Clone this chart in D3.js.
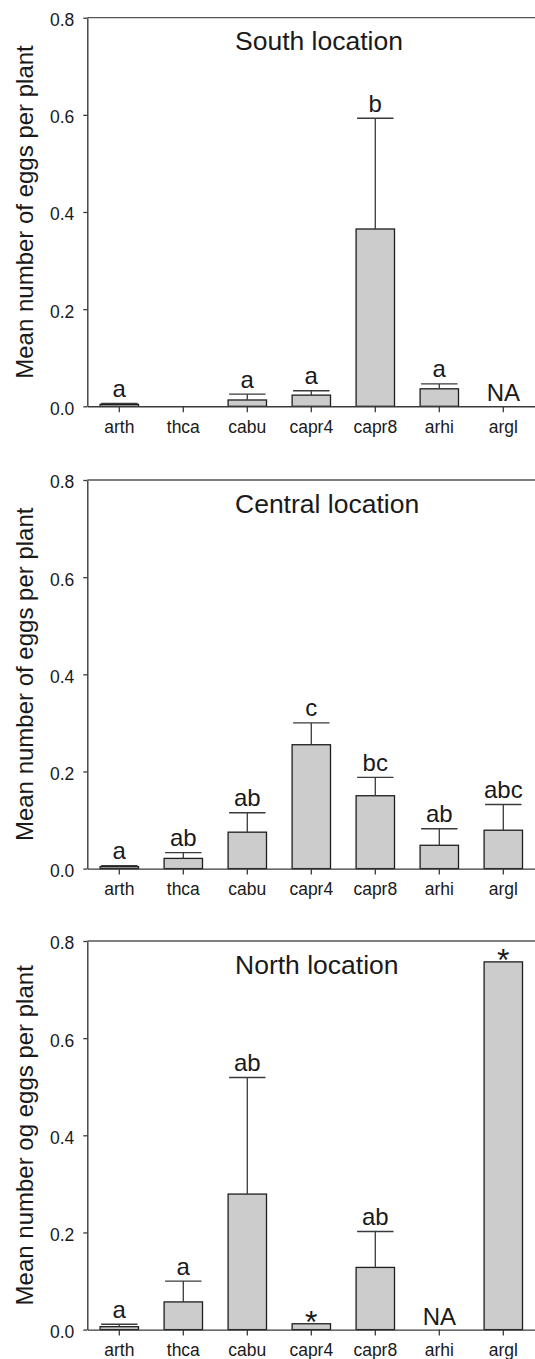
<!DOCTYPE html>
<html>
<head>
<meta charset="utf-8">
<script src="https://cdn.jsdelivr.net/npm/d3@7/dist/d3.min.js"></script>
<style>
  html, body { margin: 0; padding: 0; background: #fff; }
  svg { display: block; font-family: "Liberation Sans", Arial, sans-serif; }
</style>
</head>
<body>
<div id="chart"></div>
<script>
// Three stacked bar panels (South / Central / North), mean eggs per plant
// with one-sided error bars and significance letters above.

const categories = ['arth', 'thca', 'cabu', 'capr4', 'capr8', 'arhi', 'argl'];
const yTicks = [0, 0.2, 0.4, 0.6, 0.8];

const titles = ['South location', 'Central location', 'North location'];
const yLabels = [
  'Mean number of eggs per plant',
  'Mean number of eggs per plant',
  'Mean number og eggs per plant',
];

// null = not available (NA)
const southMean = [0.004, 0, 0.013, 0.023, 0.365, 0.036, null];
const southErr = [0.002, 0, 0.012, 0.009, 0.228, 0.010, null];
const southLetters = ['a', '', 'a', 'a', 'b', 'a', 'NA'];

const centralMean = [0.004, 0.021, 0.075, 0.255, 0.150, 0.048, 0.079];
const centralErr = [0.002, 0.012, 0.040, 0.045, 0.038, 0.034, 0.053];
const centralLetters = ['a', 'ab', 'ab', 'c', 'bc', 'ab', 'abc'];

const northMean = [0.006, 0.057, 0.279, 0.012, 0.128, null, 0.757];
const northErr = [0.005, 0.043, 0.240, 0, 0.074, null, 0];
const northLetters = ['a', 'a', 'ab', '*', 'ab', 'NA', '*'];

const W = 535, Htotal = 1359;
const left = 87.3, right = 535.3, plotH = 388.6;
const tops = [17.7, 480, 941];

const INK = '#1a1a1a';
const LINE = '#3a3a3a';

const svg = d3.select('#chart').append('svg')
  .attr('width', W).attr('height', Htotal)
  .attr('viewBox', `0 0 ${W} ${Htotal}`);

const panels = [
  { title: titles[0], ylab: yLabels[0], mean: southMean, err: southErr, letters: southLetters },
  { title: titles[1], ylab: yLabels[1], mean: centralMean, err: centralErr, letters: centralLetters },
  { title: titles[2], ylab: yLabels[2], mean: northMean, err: northErr, letters: northLetters },
];

panels.forEach((p, k) => {
  const g = svg.append('g').attr('transform', `translate(0,${tops[k]})`);
  const x = d3.scaleBand().domain(categories).range([left, right])
    .paddingInner(0.4).paddingOuter(0.2);
  const y = d3.scaleLinear().domain([0, 0.8]).range([plotH, 0]);
  const bw = x.bandwidth();
  const capHalf = bw / 2 - 1;

  const rows = categories.map((c, i) => ({ c, m: p.mean[i], e: p.err[i], l: p.letters[i] }));
  const withBar = rows.filter((d) => d.m !== null && d.m > 0);

  // bars
  g.append('g').selectAll('rect').data(withBar).join('rect')
    .attr('x', (d) => x(d.c)).attr('y', (d) => y(d.m))
    .attr('width', bw).attr('height', (d) => plotH - y(d.m))
    .style('fill', '#cccccc').style('stroke', '#1e1e1e').attr('stroke-width', 1.3);

  // error bars (upper only)
  const eb = g.append('g').selectAll('g').data(withBar.filter((d) => d.e > 0)).join('g')
    .style('stroke', LINE).attr('stroke-width', 1.3);
  eb.append('line')
    .attr('x1', (d) => x(d.c) + bw / 2).attr('x2', (d) => x(d.c) + bw / 2)
    .attr('y1', (d) => y(d.m)).attr('y2', (d) => y(d.m + d.e));
  eb.append('line')
    .attr('x1', (d) => x(d.c) + bw / 2 - capHalf).attr('x2', (d) => x(d.c) + bw / 2 + capHalf)
    .attr('y1', (d) => y(d.m + d.e)).attr('y2', (d) => y(d.m + d.e));

  // letters
  g.append('g').selectAll('text').data(rows.filter((d) => d.l)).join('text')
    .attr('x', (d) => x(d.c) + bw / 2)
    .attr('y', (d) => {
      if (d.l === 'NA') return plotH - 5;
      if (d.l === '*') return y(d.m) + 9;
      return y(d.m + d.e) - 6.5;
    })
    .attr('text-anchor', 'middle')
    .style('fill', INK)
    .style('font-size', (d) => (d.l === '*' ? '32px' : '24px'))
    .text((d) => d.l);

  // axes
  const ax = g.append('g').attr('transform', `translate(${left},0)`)
    .call(d3.axisLeft(y).tickValues(yTicks).tickFormat(d3.format('.1f'))
      .tickSize(4).tickSizeOuter(0).tickPadding(9));
  ax.selectAll('text').attr('dy', '0.45em').style('font-size', '17.5px').style('fill', INK)
    .style('font-family', '"Liberation Sans", Arial, sans-serif');

  const bx = g.append('g').attr('transform', `translate(0,${plotH})`)
    .call(d3.axisBottom(x).tickSize(6).tickSizeOuter(0).tickPadding(8));
  bx.selectAll('text').style('font-size', '17.5px').style('fill', INK)
    .style('font-family', '"Liberation Sans", Arial, sans-serif');

  [ax, bx].forEach((a) => {
    a.select('.domain').style('stroke', LINE).attr('stroke-width', 1.4);
    a.selectAll('.tick line').style('stroke', LINE).attr('stroke-width', 1.3);
  });

  // top frame line
  g.append('line').attr('x1', left).attr('x2', right).attr('y1', 0).attr('y2', 0)
    .style('stroke', '#555').attr('stroke-width', 1.3);

  // title
  g.append('text').attr('x', 235).attr('y', 32.5)
    .style('font-size', '26.5px').style('fill', INK)
    .text(p.title);

  // y label
  g.append('text').attr('transform', 'rotate(-90)')
    .attr('x', -plotH / 2).attr('y', 32.5)
    .attr('text-anchor', 'middle')
    .style('font-size', '24px').style('fill', INK)
    .text(p.ylab);
});
</script>
</body>
</html>
